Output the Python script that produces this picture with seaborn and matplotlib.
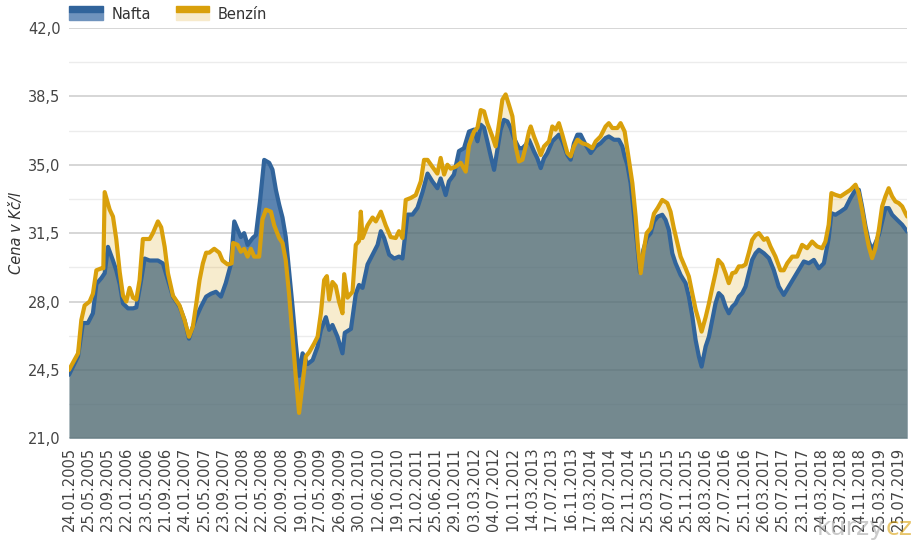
import numpy as np
import pandas as pd
import seaborn as sns
import matplotlib
matplotlib.use("Agg")
import matplotlib.pyplot as plt
from matplotlib.patches import Rectangle

# x tick labels (category axis, one label every fixed step)
labels = ["24.01.2005", "25.05.2005", "23.09.2005", "22.01.2006", "23.05.2006", "21.09.2006",
          "24.01.2007", "25.05.2007", "23.09.2007", "22.01.2008", "22.05.2008", "20.09.2008",
          "19.01.2009", "27.05.2009", "26.09.2009", "30.01.2010", "12.06.2010", "19.10.2010",
          "21.02.2011", "25.06.2011", "29.10.2011", "03.03.2012", "04.07.2012", "10.11.2012",
          "14.03.2013", "17.07.2013", "16.11.2013", "17.03.2014", "18.07.2014", "22.11.2014",
          "25.03.2015", "26.07.2015", "25.11.2015", "28.03.2016", "27.07.2016", "25.11.2016",
          "26.03.2017", "25.07.2017", "23.11.2017", "24.03.2018", "23.07.2018", "24.11.2018",
          "25.03.2019", "25.07.2019"]

# positions in units of label steps, prices in Kc/l
t_nafta = [0.0, 0.47, 0.72, 0.98, 1.24, 1.42, 1.68, 1.85, 2.02, 2.28, 2.45, 2.63, 2.80, 3.06, 3.32,
           3.49, 3.74, 3.92, 4.18, 4.61, 4.87, 5.13, 5.39, 5.73, 5.99, 6.22, 6.42, 6.60, 6.85, 7.11,
           7.36, 7.62, 7.88, 8.13, 8.39, 8.57, 8.74, 8.91, 9.08, 9.26, 9.52, 9.69, 9.91, 10.12, 10.38,
           10.55, 10.73, 10.90, 11.07, 11.24, 11.41, 11.59, 11.76, 11.93, 12.11, 12.37, 12.63, 12.89,
           13.06, 13.32, 13.49, 13.66, 13.92, 14.18, 14.30, 14.62, 14.87, 15.04, 15.22, 15.48, 15.74,
           16.0, 16.17, 16.34, 16.60, 16.86, 17.11, 17.29, 17.55, 17.81, 18.07, 18.33, 18.59, 18.84,
           19.10, 19.27, 19.53, 19.70, 19.96, 20.22, 20.48, 20.74, 21.0, 21.18, 21.35, 21.52, 21.69,
           21.87, 22.04, 22.21, 22.38, 22.55, 22.73, 22.90, 23.07, 23.33, 23.51, 23.68, 23.85, 24.11,
           24.28, 24.46, 24.63, 24.80, 25.06, 25.23, 25.40, 25.58, 25.84, 26.01, 26.18, 26.36, 26.53,
           26.79, 27.05, 27.31, 27.56, 27.82, 27.99, 28.26, 28.51, 28.69, 28.81, 28.95, 29.12, 29.29,
           29.47, 29.60, 29.78, 29.98, 30.16, 30.33, 30.53, 30.76, 30.93, 31.10, 31.28, 31.45, 31.71,
           31.97, 32.14, 32.32, 32.49, 32.66, 32.80, 33.01, 33.18, 33.35, 33.52, 33.69, 33.87, 34.04,
           34.21, 34.39, 34.56, 34.73, 34.91, 35.08, 35.25, 35.42, 35.60, 35.77, 36.03, 36.29, 36.54,
           36.80, 37.06, 37.32, 37.58, 37.84, 38.10, 38.36, 38.62, 38.88, 39.14, 39.39, 39.53, 39.74,
           40.0, 40.26, 40.52, 40.78, 40.95, 41.12, 41.30, 41.47, 41.64, 41.81, 41.99, 42.16, 42.33,
           42.50, 42.68, 42.94, 43.20, 43.46]
nafta = [24.25, 25.2, 26.9, 26.9, 27.4, 28.9, 29.2, 29.45, 30.8, 30.1, 29.6, 28.9, 27.9, 27.65, 27.65,
         27.7, 29.1, 30.2, 30.1, 30.1, 29.95, 29.1, 28.25, 27.75, 27.05, 26.1, 26.7, 27.2, 27.75, 28.25,
         28.4, 28.5, 28.25, 28.95, 29.9, 32.1, 31.7, 31.3, 31.5, 30.9, 31.25, 31.4, 33.2, 35.25, 35.1,
         34.75, 33.7, 32.95, 32.3, 31.3, 29.6, 27.75, 25.85, 24.2, 25.35, 24.8, 25.0, 25.7,
         26.55, 27.2, 26.55, 26.8, 26.2, 25.35, 26.4, 26.6, 28.4, 28.85, 28.7, 29.9, 30.4,
         30.9, 31.6, 31.25, 30.4, 30.2, 30.3, 30.2, 32.45, 32.45, 32.8, 33.6, 34.55, 34.15,
         33.8, 34.3, 33.45, 34.15, 34.5, 35.7, 35.85, 36.7, 36.8, 36.2, 37.05, 36.9, 36.2,
         35.43, 34.74, 35.77, 36.79, 37.3, 37.22, 36.88, 36.37, 35.85, 35.85, 36.02, 36.28, 35.68,
         35.34, 34.83, 35.34, 35.6, 36.2, 36.37, 36.54, 36.2, 35.5, 35.26, 36.1, 36.54, 36.54,
         36.02, 35.6, 35.94, 36.1, 36.37, 36.45, 36.28, 36.28, 35.94, 35.43, 35.0, 34.06, 32.5,
         30.8, 29.5, 30.65, 31.3, 31.5, 32.1, 32.35, 32.44, 32.18, 31.67, 30.47, 29.96, 29.36,
         28.94, 28.25, 27.23, 26.03, 25.18, 24.67, 25.7, 26.2, 27.06, 27.9, 28.43, 28.25, 27.74,
         27.4, 27.74, 27.9, 28.25, 28.43, 28.77, 29.45, 30.13, 30.47, 30.65, 30.47, 30.22, 29.62,
         28.77, 28.34, 28.77, 29.2, 29.62, 30.05, 29.96, 30.13, 29.7, 29.96, 31.24, 32.52, 32.44,
         32.6, 32.78, 33.29, 33.72, 33.72, 32.87, 31.84, 31.07, 30.64, 30.99, 31.41, 32.1, 32.78,
         32.78, 32.44, 32.18, 31.93, 31.58]

t_benzin = [0.0, 0.47, 0.64, 0.81, 1.07, 1.24, 1.42, 1.68, 1.78, 1.85, 2.11, 2.28, 2.45, 2.63, 2.80,
            2.97, 3.14, 3.32, 3.49, 3.66, 3.83, 4.01, 4.18, 4.35, 4.61, 4.78, 4.96, 5.13, 5.39, 5.73,
            5.99, 6.22, 6.42, 6.60, 6.77, 6.94, 7.11, 7.27, 7.53, 7.79, 7.96, 8.22, 8.43, 8.51, 8.74,
            8.91, 9.08, 9.26, 9.43, 9.60, 9.86, 10.03, 10.21, 10.47, 10.64, 10.90, 11.07, 11.24, 11.41,
            11.59, 11.76, 11.93, 12.11, 12.28, 12.45, 12.71, 12.89, 13.06, 13.23, 13.37, 13.49, 13.66,
            13.83, 14.0, 14.18, 14.27, 14.44, 14.70, 14.87, 15.04, 15.13, 15.22, 15.48, 15.74, 15.91,
            16.17, 16.42, 16.68, 16.94, 17.11, 17.29, 17.46, 17.72, 17.98, 18.24, 18.41, 18.59, 18.84,
            19.10, 19.27, 19.45, 19.62, 19.79, 20.05, 20.31, 20.57, 20.74, 21.0, 21.18, 21.35, 21.52,
            21.69, 21.95, 22.12, 22.30, 22.47, 22.64, 22.81, 22.99, 23.16, 23.33, 23.51, 23.68, 23.85,
            23.94, 24.11, 24.28, 24.46, 24.63, 24.89, 25.06, 25.23, 25.40, 25.58, 25.84, 26.01, 26.18,
            26.36, 26.62, 26.87, 27.13, 27.31, 27.56, 27.82, 27.99, 28.17, 28.43, 28.60, 28.81, 29.03,
            29.21, 29.38, 29.50, 29.64, 29.78, 29.95, 30.16, 30.33, 30.53, 30.76, 31.02, 31.19, 31.36,
            31.54, 31.71, 31.97, 32.14, 32.32, 32.49, 32.66, 32.80, 33.01, 33.18, 33.35, 33.52, 33.66,
            33.87, 34.04, 34.21, 34.39, 34.56, 34.73, 34.91, 35.08, 35.25, 35.42, 35.60, 35.77, 36.03,
            36.20, 36.37, 36.63, 36.89, 37.06, 37.24, 37.50, 37.76, 38.01, 38.27, 38.53, 38.79, 39.05,
            39.22, 39.39, 39.53, 39.74, 40.0, 40.26, 40.52, 40.78, 40.95, 41.12, 41.30, 41.47, 41.64,
            41.81, 41.99, 42.16, 42.33, 42.50, 42.68, 42.85, 43.02, 43.20, 43.37, 43.46]
benzin = [24.5, 25.35, 27.06, 27.8, 28.0, 28.4, 29.6, 29.7, 29.7, 33.6, 32.7, 32.35, 31.2, 29.5, 28.3,
          28.0, 28.7, 28.2, 28.1, 29.1, 31.2, 31.2, 31.2, 31.5, 32.1, 31.8, 30.8, 29.45, 28.3, 27.8,
          27.05, 26.2, 26.7, 27.9, 29.1, 29.95, 30.5, 30.5, 30.7, 30.5, 30.1, 29.9, 29.95, 31.0, 30.9,
          30.55, 30.7, 30.3, 30.7, 30.3, 30.3, 32.2, 32.7, 32.6, 31.9, 31.25, 31.0, 30.1, 28.4,
          26.2, 24.15, 22.3, 23.8, 25.2, 25.4, 25.85, 26.2, 27.4, 29.1, 29.3, 28.1, 29.0,
          28.8, 28.0, 27.4, 29.4, 28.2, 28.5, 30.9, 31.1, 32.6, 31.25, 31.9, 32.3, 32.1,
          32.6, 31.9, 31.3, 31.25, 31.6, 31.25, 33.2, 33.3, 33.45, 34.15, 35.25, 35.25, 34.9,
          34.55, 35.35, 34.5, 35.0, 34.8, 34.9, 35.1, 34.65, 36.0, 36.7, 36.9, 37.8, 37.73,
          37.13, 36.45, 35.94, 37.13, 38.33, 38.6, 38.07, 37.48, 35.94, 35.17, 35.26, 35.94, 36.7,
          36.96, 36.45, 36.02, 35.5, 35.94, 36.2, 36.96, 36.8, 37.13, 36.54, 35.6, 35.43, 35.94,
          36.28, 36.1, 36.02, 35.85, 36.2, 36.45, 36.96, 37.13, 36.88, 36.88, 37.13, 36.7, 35.26,
          34.06, 32.35, 30.8, 29.45, 30.5, 31.5, 31.76, 32.5, 32.8, 33.2, 33.04, 32.6, 31.76,
          31.0, 30.3, 29.7, 29.28, 28.4, 27.6, 27.0, 26.46, 27.2, 27.9, 28.7, 29.45, 30.13,
          29.9, 29.45, 28.94, 29.45, 29.5, 29.8, 29.8, 29.9, 30.5, 31.15, 31.4, 31.5, 31.16,
          31.24, 30.82, 30.3, 29.6, 29.6, 29.96, 30.3, 30.3, 30.9, 30.73, 31.07, 30.82, 30.73,
          31.07, 31.93, 33.55, 33.46, 33.38, 33.55, 33.72, 33.98, 33.55, 32.7, 31.67, 30.82, 30.22,
          30.73, 31.67, 32.87, 33.38, 33.8, 33.38, 33.12, 33.04, 32.87, 32.52, 32.35]

y_ticks = [21.0, 24.5, 28.0, 31.5, 35.0, 38.5, 42.0]

c_nafta = "#31649b"
c_nafta_fill = "#245b97"
c_benzin = "#d9a00b"

sns.set_style("white")
plt.rcParams["font.family"] = ["DejaVu Sans"]

fig = plt.figure(figsize=(9.21, 5.5), dpi=100)
ax = fig.add_axes([69 / 921, 1 - 438.3 / 550, 838 / 921, 410.3 / 550])

# fills
ax.fill_between(t_nafta, 21, nafta, color=c_nafta_fill, alpha=0.75, lw=0, zorder=1)
ax.fill_between(t_benzin, 21, benzin, color=c_benzin, alpha=0.2, lw=0, zorder=2)

df_n = pd.DataFrame({"t": t_nafta, "cena": nafta})
df_b = pd.DataFrame({"t": t_benzin, "cena": benzin})
sns.lineplot(data=df_n, x="t", y="cena", ax=ax, color=c_nafta, lw=3.0, sort=False, zorder=3)
sns.lineplot(data=df_b, x="t", y="cena", ax=ax, color=c_benzin, lw=3.0, sort=False, zorder=4)

ax.set_xlim(0, 43.45)
ax.set_ylim(21, 42)

# grid: major + lighter minor lines
for v in y_ticks:
    ax.axhline(v, color="#d3d3d3", lw=1.3, zorder=0)
for v in np.array(y_ticks[:-1]) + 1.75:
    ax.axhline(v, color="#ececec", lw=1.0, zorder=0)

ax.set_yticks(y_ticks)
ax.set_yticklabels([f"{v:.1f}".replace(".", ",") for v in y_ticks], fontsize=10.5, color="#444444")
ax.set_xticks(range(len(labels)))
ax.set_xticklabels(labels, rotation=90, fontsize=10.5, color="#444444")
ax.tick_params(axis="y", length=0, pad=6)
ax.tick_params(axis="x", length=0, pad=6)
for s in ax.spines.values():
    s.set_visible(False)
ax.set_xlabel("")
ax.set_ylabel("Cena v Kč/l", fontsize=10.5, style="italic", color="#333333", labelpad=3)


class Swatch:
    def __init__(self, line_c, fill_c):
        self.line_c = line_c
        self.fill_c = fill_c


class SwatchHandler:
    def legend_artist(self, legend, orig, fontsize, handlebox):
        x0, y0 = handlebox.xdescent, handlebox.ydescent
        w, h = handlebox.width, handlebox.height
        tr = handlebox.get_transform()
        bot = Rectangle((x0, y0 - 1), w, h / 2 + 1, color=orig.fill_c, transform=tr)
        top = Rectangle((x0, y0 + h / 2), w, h / 2, color=orig.line_c, transform=tr)
        handlebox.add_artist(bot)
        handlebox.add_artist(top)
        return top


h_n = Swatch(c_nafta, "#6f93bd")
h_b = Swatch(c_benzin, "#f7eacb")
fig.legend([h_n, h_b], ["Nafta", "Benzín"], handler_map={Swatch: SwatchHandler()},
           loc="upper left", bbox_to_anchor=(59 / 921, 1 + 3 / 550), ncol=2, frameon=False,
           fontsize=10.5, handlelength=2.3, handleheight=0.9, handletextpad=0.6,
           columnspacing=1.7, borderpad=0.2, labelcolor="#333333")

# watermark
fig.text(817 / 921, 1 - 528 / 550, "kurzy", fontsize=18, color="#a8a8a8", alpha=0.6, va="center")
fig.text(886 / 921, 1 - 528 / 550, "cz", fontsize=18, color=c_benzin, alpha=0.6, va="center")

fig.savefig("out.png", dpi=100)
